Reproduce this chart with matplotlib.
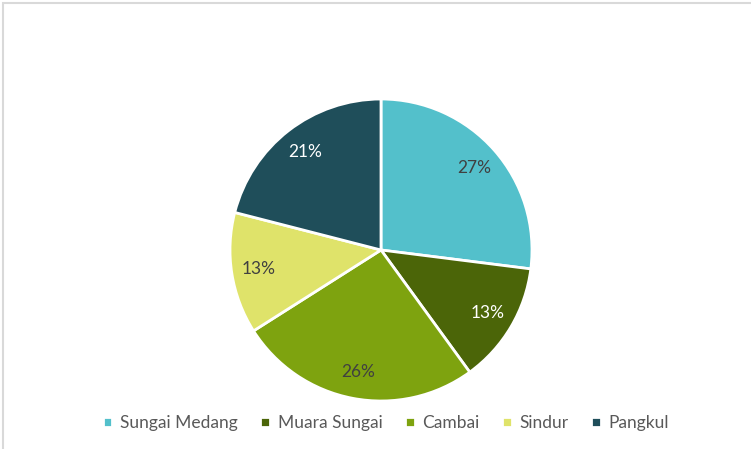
import matplotlib.pyplot as plt
from matplotlib.patches import Rectangle

labels = ['Sungai Medang', 'Muara Sungai', 'Cambai', 'Sindur', 'Pangkul']
values = [27, 13, 26, 13, 21]
colors = ['#53C0CB', '#4B6508', '#7EA30F', '#DFE36A', '#1F4E5A']
text_colors = ['#404040', 'white', '#404040', '#404040', 'white']

plt.rcParams['font.family'] = ['Lato', 'DejaVu Sans']

fig = plt.figure(figsize=(7.51, 4.49), dpi=100)
fig.patches.append(Rectangle((3 / 751, -0.1), 1.2, 1.1 - 3 / 449, transform=fig.transFigure,
                             fill=False, edgecolor='#D9D9D9', linewidth=1.5))

# pie: center (381, 250) px, radius ~151 px
r = 151
ax = fig.add_axes([(381 - r) / 751, (449 - 250 - r) / 449, 2 * r / 751, 2 * r / 449])
wedges, texts, autotexts = ax.pie(values, colors=colors, startangle=90, counterclock=False,
                                  autopct='%1.0f%%', pctdistance=0.82,
                                  wedgeprops=dict(edgecolor='white', linewidth=2))
for t, c in zip(autotexts, text_colors):
    t.set_color(c)
    t.set_fontsize(12.5)
ax.set_xlim(-1, 1)
ax.set_ylim(-1, 1)
ax.set_aspect('equal')

fig.legend(wedges, labels, loc='center', bbox_to_anchor=(386 / 751, 1 - 423 / 449),
           ncol=5, frameon=False, fontsize=12.5, handlelength=0.55, handleheight=0.55,
           handletextpad=0.45, columnspacing=1.3, labelcolor='#595959')

fig.savefig('out.png', dpi=100)
